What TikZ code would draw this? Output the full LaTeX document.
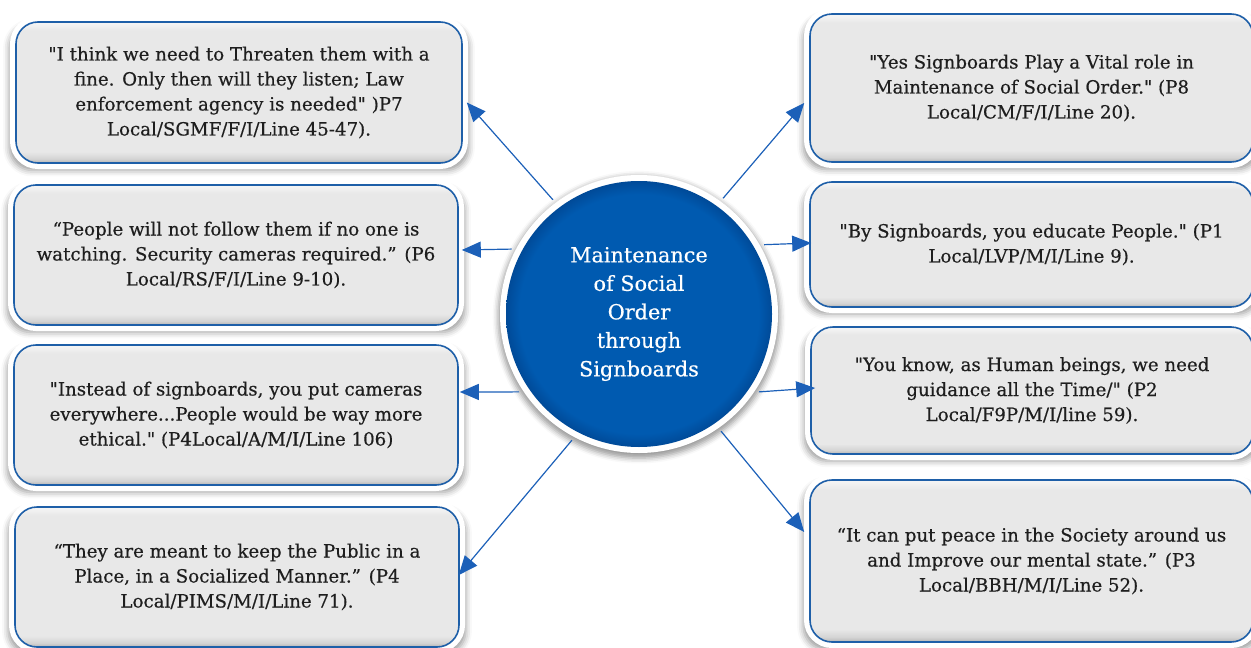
\documentclass[tikz,border=0pt]{standalone}
\usepackage{fontspec}
\setmainfont{DejaVu Serif}[Ligatures=TeXOff, FakeBold=0.5]
\usetikzlibrary{arrows.meta,shadows.blur,calc}
\definecolor{boxblue}{HTML}{1E5FA8}
\definecolor{arrowblue}{HTML}{1C60B8}
\definecolor{circblue}{HTML}{005AB0}
\definecolor{circdark}{HTML}{004A98}
\definecolor{txt}{HTML}{1E1E1E}
\definecolor{gA}{HTML}{B4B4B4}
\definecolor{gB}{HTML}{D4D4D4}
\definecolor{gC}{HTML}{E8E8E8}
\definecolor{gD}{HTML}{F4F4F4}
\pgfdeclareverticalshading{boxshade}{100bp}{color(0bp)=(gA); color(25bp)=(gA); color(26.5bp)=(gB); color(29bp)=(gC); color(72bp)=(gC); color(74.5bp)=(gD); color(75bp)=(gD); color(100bp)=(gD)}
\pgfdeclareradialshading{circshade}{\pgfpoint{0bp}{0bp}}{color(0bp)=(circblue); color(22.5bp)=(circblue); color(25bp)=(circdark); color(50bp)=(circdark)}
\tikzset{
  qbox/.style={draw=boxblue, line width=1.6pt, rounded corners=22pt, shading=boxshade,
    text=txt, align=center, font=\fontsize{18.2}{25}\selectfont, inner sep=0pt,
    preaction={blur shadow={shadow xshift=0pt, shadow yshift=-5pt, shadow blur radius=6pt,
      shadow opacity=40, shadow scale=1.03}},
    preaction={draw=white, line width=12pt}},
  hub/.style={circle, minimum size=266pt, inner sep=0pt, outer sep=10pt, shading=circshade,
    text=white, align=center, font=\fontsize{20.8}{28.5}\selectfont,
    preaction={blur shadow={shadow xshift=0pt, shadow yshift=-3pt, shadow blur radius=5pt,
      shadow opacity=40, shadow scale=1.06}},
    preaction={draw=white, line width=12pt}},
  conn/.style={draw=arrowblue, line width=1.2pt, -{Triangle[length=19pt,width=16pt]}}
}
\begin{document}
\begin{tikzpicture}[x=1pt,y=-1pt]
\useasboundingbox (0,0) rectangle (1251,648);
% left boxes
\node[qbox, minimum width=446pt, minimum height=141pt] (L1) at (239,92.5)
 {"I think we need to Threaten them with a\\ fine. Only then will they listen; Law\\ enforcement agency is needed" )P7\\ Local/SGMF/F/I/Line 45-47).};
\node[qbox, minimum width=444pt, minimum height=140pt] (L2) at (236,255)
 {“People will not follow them if no one is\\ watching. Security cameras required.” (P6\\ Local/RS/F/I/Line 9-10).};
\node[qbox, minimum width=444pt, minimum height=140pt] (L3) at (236,415)
 {"Instead of signboards, you put cameras\\ everywhere...People would be way more\\ ethical." (P4Local/A/M/I/Line 106)};
\node[qbox, minimum width=444pt, minimum height=140pt] (L4) at (237,577)
 {“They are meant to keep the Public in a\\ Place, in a Socialized Manner.” (P4\\ Local/PIMS/M/I/Line 71).};
% right boxes
\node[qbox, minimum width=443pt, minimum height=148pt] (R1) at (1031.5,88)
 {"Yes Signboards Play a Vital role in\\ Maintenance of Social Order." (P8\\ Local/CM/F/I/Line 20).};
\node[qbox, minimum width=443pt, minimum height=125pt] (R2) at (1031.5,244.5)
 {"By Signboards, you educate People." (P1\\ Local/LVP/M/I/Line 9).};
\node[qbox, minimum width=442pt, minimum height=127pt] (R3) at (1032,390.5)
 {"You know, as Human beings, we need\\ guidance all the Time/" (P2\\ Local/F9P/M/I/line 59).};
\node[qbox, minimum width=443pt, minimum height=162pt] (R4) at (1031.5,561)
 {“It can put peace in the Society around us\\ and Improve our mental state.” (P3\\ Local/BBH/M/I/Line 52).};
% hub
\node[hub] (C) at (639,314) {Maintenance\\ of Social\\ Order\\ through\\ Signboards};
% connectors
\draw[conn] (C.127.2) -- ($(L1.east)+(4,10)$);
\draw[conn] (C.153.6) -- ($(L2.east)+(3,-5)$);
\draw[conn] (C.213.8) -- ($(L3.east)+(1,-23)$);
\draw[conn] (C.242.7) -- ($(L4.east)+(-1,-2)$);
\draw[conn] (C.54.6) -- ($(R1.west)+(-5,15)$);
\draw[conn] (C.29.7) -- ($(R2.west)+(2,-1.5)$);
\draw[conn] (C.-33.2) -- ($(R3.west)+(5,-2.5)$);
\draw[conn] (C.-55.1) -- ($(R4.west)+(-5,-29)$);
\end{tikzpicture}
\end{document}
